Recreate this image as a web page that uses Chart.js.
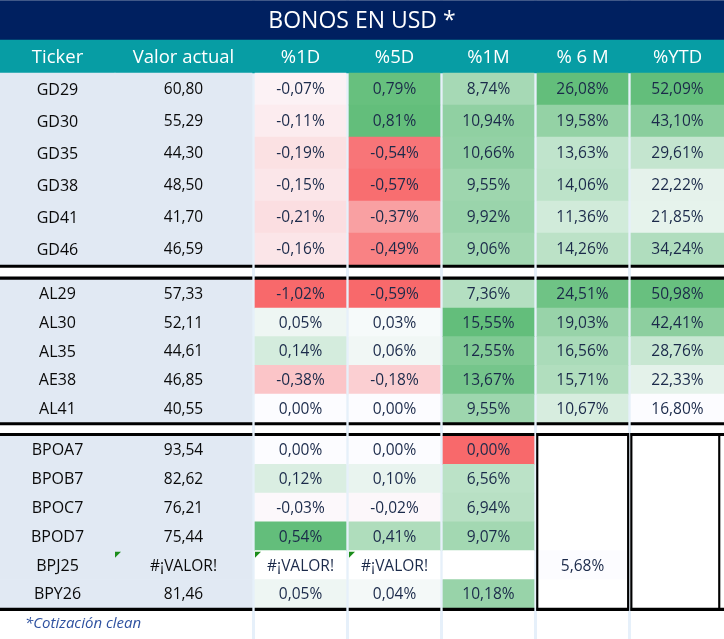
<!DOCTYPE html>
<html>
<head>
<meta charset="utf-8">
<script src="https://cdn.jsdelivr.net/npm/chart.js@4"></script>
<style>
html,body{margin:0;padding:0;background:#ffffff;}
#wrap{position:relative;width:724px;height:639px;}
</style>
</head>
<body>
<div id="wrap"><canvas id="c"></canvas></div>
<script>
// ---------------- DATA ----------------
const title = 'BONOS EN USD *';
const footnote = '*Cotización clean';
const columns = ['Ticker', 'Valor actual', '%1D', '%5D', '%1M', '% 6 M', '%YTD'];
const groupSizes = [6, 5, 6];
const tickers = ['GD29','GD30','GD35','GD38','GD41','GD46',
                 'AL29','AL30','AL35','AE38','AL41',
                 'BPOA7','BPOB7','BPOC7','BPOD7','BPJ25','BPY26'];
const valorActual = [60.80,55.29,44.30,48.50,41.70,46.59,
                     57.33,52.11,44.61,46.85,40.55,
                     93.54,82.62,76.21,75.44,'#¡VALOR!',81.46];
const pct1D = [-0.07,-0.11,-0.19,-0.15,-0.21,-0.16,
               -1.02,0.05,0.14,-0.38,0.00,
               0.00,0.12,-0.03,0.54,'#¡VALOR!',0.05];
const pct5D = [0.79,0.81,-0.54,-0.57,-0.37,-0.49,
               -0.59,0.03,0.06,-0.18,0.00,
               0.00,0.10,-0.02,0.41,'#¡VALOR!',0.04];
const pct1M = [8.74,10.94,10.66,9.55,9.92,9.06,
               7.36,15.55,12.55,13.67,9.55,
               0.00,6.56,6.94,9.07,null,10.18];
const pct6M = [26.08,19.58,13.63,14.06,11.36,14.26,
               24.51,19.03,16.56,15.71,10.67,
               null,null,null,null,5.68,null];
const pctYTD = [52.09,43.10,29.61,22.22,21.85,34.24,
                50.98,42.41,28.76,22.33,16.80,
                null,null,null,null,null,null];

// ---------------- LAYOUT / STYLE ----------------
const W = 724, H = 639;
const colEdges = [[0,115],[115,252],[255,346],[349,440],[443,534],[537,628],[631,724]];
const gapCenters = [253.5, 347.5, 441.5, 535.5, 629.5];
const titleBand = [0.5, 40];
const headerBand = [40, 73];
const groupBands = [{top: 73, rowH: 32}, {top: 279.3, rowH: 28.7}, {top: 435.5, rowH: 28.8}];
const ruleCenters = [266.2, 278.1, 423.7, 434.5, 609.4];
const ruleSpans = [[0,252],[255,346],[349,440],[443,534],[537,628],[631,724]];
const boxLines = [[536.5,538],[627.4,628.9],[630.6,632.1],[718.5,720]];
const boxBand = [433.3, 610.6];
const scaleKinds = [null, null, 'div', 'div', 'div', 'seq', 'seq'];

const NAVY = '#002060', TEAL = '#079DA4', LEFTBG = '#E1E9F3', GAP = '#E6F0FA';
const RED = [248,105,107], WHITE = [252,252,255], GREEN = [99,190,123];
const FONT = '"Open Sans", "DejaVu Sans", sans-serif';

const columnsData = [tickers, valorActual, pct1D, pct5D, pct1M, pct6M, pctYTD];

// row layout derived from groups
const rowsLayout = [];
groupSizes.forEach((n, g) => {
  for (let r = 0; r < n; r++) rowsLayout.push({g, c: groupBands[g].top + (r + 0.5) * groupBands[g].rowH});
});

// colour scales (Excel-like conditional formatting)
const colStats = columnsData.map(arr => {
  const nums = arr.filter(v => typeof v === 'number');
  return {min: Math.min(...nums), max: Math.max(...nums)};
});
function mix(a, b, t) {
  t = Math.max(0, Math.min(1, t));
  return 'rgb(' + a.map((v, i) => Math.round(v + (b[i] - v) * t)).join(',') + ')';
}
function cellColor(row, col) {
  if (col < 2) return LEFTBG;
  const v = columnsData[col][row];
  if (typeof v !== 'number') return '#FFFFFF';
  const {min, max} = colStats[col];
  if (scaleKinds[col] === 'div') {
    if (v <= min) return mix(WHITE, RED, 1);
    if (v < 0) return mix(WHITE, RED, v / min);
    return mix(WHITE, GREEN, max > 0 ? v / max : 0);
  }
  return mix(WHITE, GREEN, (v - min) / (max - min));
}
function fmt(v, col) {
  if (v === null || v === undefined) return '';
  if (typeof v === 'string') return v;
  return v.toFixed(2).replace('.', ',') + (col >= 2 ? '%' : '');
}

// ---------------- DATASETS ----------------
const datasets = [];
const rulePts = [];
ruleCenters.forEach(yc => ruleSpans.forEach(s => rulePts.push({x: [s[0], s[1]], y: yc})));
datasets.push({label: 'rules', data: rulePts, barThickness: 2.4, backgroundColor: '#000000', order: 0});
datasets.push({label: 'box', data: boxLines.map(b => ({x: [b[0], b[1]], y: (boxBand[0] + boxBand[1]) / 2})),
  barThickness: boxBand[1] - boxBand[0], backgroundColor: '#000000', order: 0});
groupBands.forEach((band, g) => {
  const pts = [];
  rowsLayout.forEach((row, i) => {
    if (row.g !== g) return;
    colEdges.forEach((e, c) => pts.push({x: [e[0], e[1]], y: row.c, row: i, col: c}));
  });
  datasets.push({label: 'group' + g, data: pts, barThickness: band.rowH,
    backgroundColor: ctx => (ctx.raw ? cellColor(ctx.raw.row, ctx.raw.col) : '#FFFFFF'), order: 1});
});
datasets.push({label: 'header', data: [{x: [0, W], y: (headerBand[0] + headerBand[1]) / 2}],
  barThickness: headerBand[1] - headerBand[0], backgroundColor: TEAL, order: 2});
datasets.push({label: 'title', data: [{x: [0, W], y: (titleBand[0] + titleBand[1]) / 2}],
  barThickness: titleBand[1] - titleBand[0], backgroundColor: NAVY, order: 2});

// ---------------- TEXT PLUGIN ----------------
const tableText = {
  id: 'tableText',
  afterDatasetsDraw(chart) {
    const {ctx, scales: {x, y}} = chart;
    ctx.save();
    ctx.textAlign = 'center';
    ctx.textBaseline = 'middle';
    ctx.fillStyle = '#FFFFFF';
    ctx.font = '23px ' + FONT;
    ctx.fillText(title, x.getPixelForValue(W / 2), y.getPixelForValue((titleBand[0] + titleBand[1]) / 2) + 1);
    ctx.font = '18.5px ' + FONT;
    columns.forEach((h, c) => {
      ctx.fillText(h, x.getPixelForValue((colEdges[c][0] + colEdges[c][1]) / 2),
        y.getPixelForValue((headerBand[0] + headerBand[1]) / 2) + 1);
    });
    rowsLayout.forEach((row, i) => {
      columnsData.forEach((arr, c) => {
        const v = arr[i];
        const t = c === 0 ? v : fmt(v, c);
        if (!t) return;
        const cx = x.getPixelForValue((colEdges[c][0] + colEdges[c][1]) / 2);
        const cy = y.getPixelForValue(row.c);
        ctx.fillStyle = c < 2 ? '#0A0A0A' : '#1B2A4A';
        ctx.font = (c === 0 ? '16px ' : '15.5px ') + FONT;
        ctx.fillText(t, cx, cy + 1);
        if (typeof v === 'string' && c > 0) {
          const x0 = x.getPixelForValue(colEdges[c][0]);
          const y0 = y.getPixelForValue(row.c - groupBands[row.g].rowH / 2) + 1;
          ctx.fillStyle = '#1A8C1A';
          ctx.beginPath();
          ctx.moveTo(x0, y0); ctx.lineTo(x0 + 6, y0); ctx.lineTo(x0, y0 + 6); ctx.closePath();
          ctx.fill();
        }
      });
    });
    ctx.textAlign = 'left';
    ctx.fillStyle = '#2F52A0';
    ctx.font = 'italic 15px ' + FONT;
    ctx.fillText(footnote, x.getPixelForValue(25), y.getPixelForValue(624));
    ctx.restore();
  }
};

new Chart(document.getElementById('c'), {
  type: 'bar',
  data: {datasets},
  options: {
    responsive: true,
    maintainAspectRatio: false,
    animation: false,
    events: [],
    indexAxis: 'y',
    layout: {padding: 0},
    datasets: {bar: {grouped: false, borderWidth: 0}},
    plugins: {legend: {display: false}, tooltip: {enabled: false}, title: {display: false}},
    scales: {
      x: {
        type: 'linear', min: 0, max: W, display: true, offset: false, grace: 0,
        ticks: {display: false}, border: {display: false},
        grid: {color: GAP, lineWidth: 3, drawTicks: false, offset: false},
        afterBuildTicks: s => { s.ticks = gapCenters.map(v => ({value: v})); },
        afterFit: s => { s.height = 0; }
      },
      y: {type: 'linear', min: 0, max: H, reverse: true, display: false, offset: false, grace: 0, bounds: 'data'}
    }
  },
  plugins: [tableText]
});
</script>
</body>
</html>
